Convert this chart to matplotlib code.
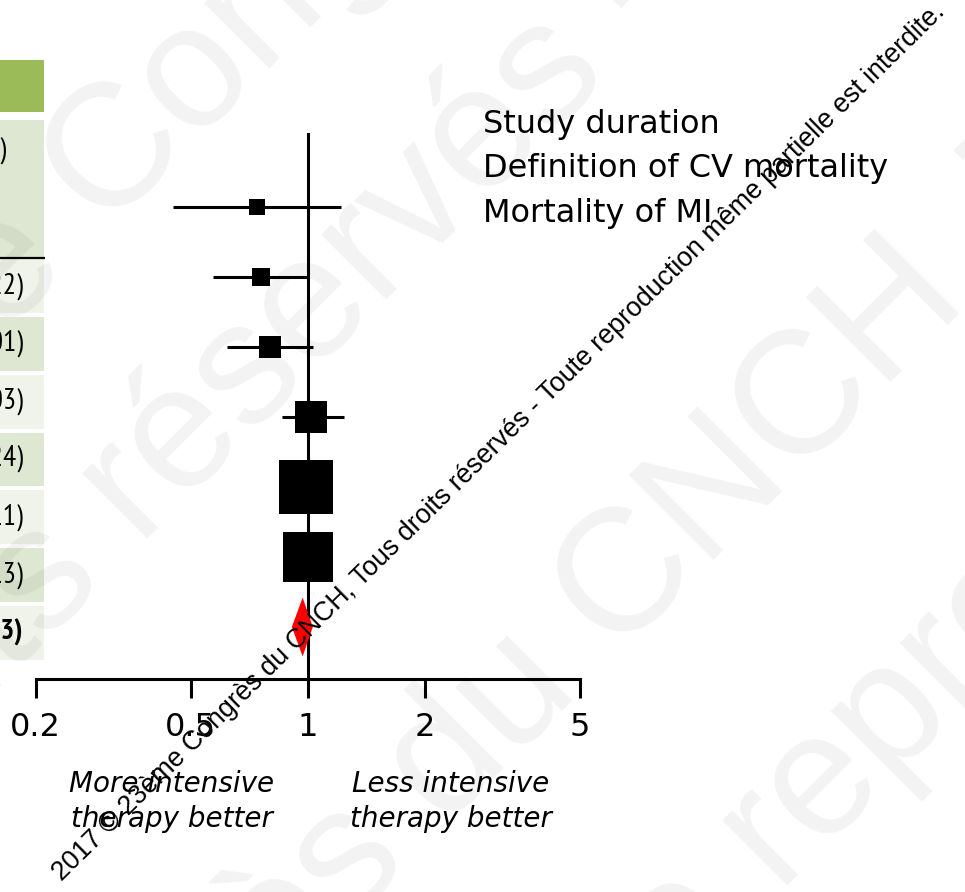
#!/usr/bin/env python3
"""Forest plot: intensive vs less intensive therapy, pooled hazard ratio."""

import matplotlib
import numpy as np

matplotlib.use("Agg")
import matplotlib.pyplot as plt  # noqa: E402

W, H = 965, 892

# ---- data -------------------------------------------------------------
hr = [0.74, 0.76, 0.80, 1.02, 0.99, 1.00]
ci_low = [0.45, 0.57, 0.62, 0.86, 0.89, 0.88]
ci_high = [1.22, 1.01, 1.03, 1.24, 1.11, 1.13]
weights = [3.0, 4.8, 6.4, 13.6, 37.5, 34.6]
pooled = 0.97
pooled_low = 0.91
pooled_high = 1.03

ticks = [0.2, 0.5, 1, 2, 5]
tick_labels = ["0.2", "0.5", "1", "2", "5"]
header = "HR (95% CI)"
factors = ["Study duration", "Definition of CV mortality", "Mortality of MI"]
left_label = ["More intensive", "therapy better"]
right_label = ["Less intensive", "therapy better"]
notice = ("2017 \u00a9 23\u00e8me Congr\u00e8s du CNCH, Tous droits r\u00e9serv\u00e9s"
          " - Toute reproduction m\u00eame partielle est interdite.")


def fx(x):
    return x / W


def fy(y):
    return 1 - y / H


fig = plt.figure(figsize=(W / 100, H / 100), dpi=100)
fig.patch.set_facecolor("white")

# ---- table column (cut at the left edge) ------------------------------
tax = fig.add_axes([0, 0, fx(45), 1])
tax.set_xlim(0, 45)
tax.set_ylim(10.483, -4.948)
tax.axis("off")
tax.patch.set_alpha(0)

n = len(hr) + 1
row_colors = ["#EFF3EA" if k % 2 == 0 else "#DEE7D1" for k in range(n)]
tax.barh(np.arange(n), 44, left=0, height=0.93, color=row_colors)
tax.barh(-1.687, 44, left=0, height=2.37, color="#DEE7D1")
tax.barh(-3.46, 44, left=0, height=0.9, color="#9BBB59")
tax.hlines(-0.49, 0, 45, color="black", lw=1.6)

narrow = ["PT Sans Narrow", "Archivo Narrow", "DejaVu Sans"]
tax.text(6, -2.35, header, ha="right", va="center", fontsize=21,
         family=narrow, clip_on=False)
labels = ["%.2f (%.2f-%.2f)" % v for v in zip(hr, ci_low, ci_high)]
for k, lab in enumerate(labels):
    tax.text(22.7, k, lab, ha="right", va="center", fontsize=21,
             family=narrow, clip_on=False)
tax.text(22.7, n - 1, "%.2f (%.2f-%.2f)" % (pooled, pooled_low, pooled_high),
         ha="right", va="center", fontsize=21, fontweight="bold",
         family=narrow, clip_on=False)

# ---- forest axes ------------------------------------------------------
ax = fig.add_axes([fx(35.6), fy(679), fx(580 - 35.6), (679 - 133) / H])
ax.patch.set_alpha(0)
ax.set_xscale("log")
ax.set_xlim(0.2, 5)
ax.set_ylim(6.743, -1.057)

rows = np.arange(len(hr))
ax.axvline(1, color="black", lw=2.2, zorder=2)
ax.hlines(rows, ci_low, ci_high, color="black", lw=2.2, zorder=3)
for y, v, w in zip(rows, hr, weights):
    ax.plot(v, y, marker="s", markersize=6.24 * np.sqrt(w), color="black",
            markeredgewidth=0, linestyle="none", zorder=4)
yp = len(hr)
ax.fill([pooled_low, pooled, pooled_high, pooled],
        [yp, yp - 0.42, yp, yp + 0.42], color="red", lw=0, zorder=4)

for side in ("left", "right", "top"):
    ax.spines[side].set_visible(False)
ax.spines["bottom"].set_linewidth(2.2)
ax.spines["bottom"].set_bounds(0.2, 5)
ax.set_yticks([])
ax.set_xticks(ticks)
ax.set_xticklabels(tick_labels)
ax.minorticks_off()
ax.tick_params(axis="x", length=13.7, width=2.2, pad=10, labelsize=23)

# ---- annotations ------------------------------------------------------
for i, t in enumerate(factors):
    fig.text(fx(483), fy(133 + 44.5 * i), t, fontsize=23, va="baseline")

for cx, lines in ((172, left_label), (451, right_label)):
    for i, t in enumerate(lines):
        fig.text(fx(cx), fy(792 + 35 * i), t, fontsize=20, style="italic",
                 ha="center", va="baseline")

# ---- watermark --------------------------------------------------------
big = [
    ((104.7, 233.7), "2017 \u00a9 23\u00e8me ", "Congr\u00e8s du CNCH, Tous"),
    ((140, 547), "Tous droits ", "r\u00e9serv\u00e9s - Toute reproduction"),
    ((615, 658), "Congr\u00e8s du ", "CNCH, Tous droits"),
    ((780, 894), "Toute ", "reproduction m\u00eame"),
]
for (x, y), before, after in big:
    for ha, t in (("right", before), ("left", after)):
        fig.text(fx(x), fy(y), t, rotation=45, rotation_mode="anchor",
                 ha=ha, va="baseline", fontsize=125, color="black",
                 alpha=0.05, family="Liberation Sans", zorder=10)

fig.text(fx(62), fy(882), notice, rotation=44.5, rotation_mode="anchor",
         ha="left", va="baseline", fontsize=19.3, family="Liberation Sans",
         zorder=11)

fig.savefig("out.png", dpi=100)
